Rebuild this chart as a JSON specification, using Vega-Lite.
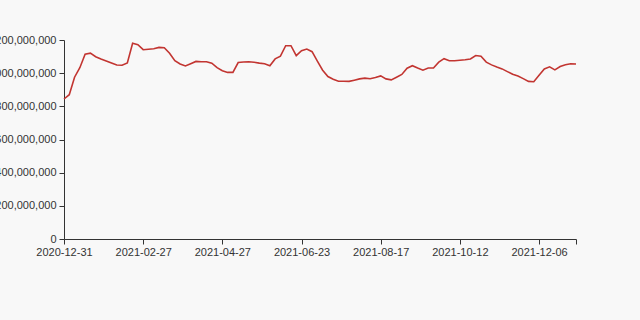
{
  "$schema": "https://vega.github.io/schema/vega-lite/v6.json",
  "width": 512,
  "height": 199,
  "autosize": "none",
  "padding": {"left": 64, "top": 40, "right": 64, "bottom": 81},
  "background": "#f8f8f8",
  "config": {"view": {"stroke": null}, "font": "Liberation Sans"},
  "data": {"values": [
    {"date": "2020-12-31", "value": 844200000},
    {"date": "2021-01-04", "value": 870200000},
    {"date": "2021-01-08", "value": 975700000},
    {"date": "2021-01-12", "value": 1033000000},
    {"date": "2021-01-15", "value": 1114400000},
    {"date": "2021-01-19", "value": 1120400000},
    {"date": "2021-01-23", "value": 1099300000},
    {"date": "2021-01-27", "value": 1085400000},
    {"date": "2021-01-31", "value": 1074000000},
    {"date": "2021-02-04", "value": 1061300000},
    {"date": "2021-02-08", "value": 1049300000},
    {"date": "2021-02-12", "value": 1048000000},
    {"date": "2021-02-15", "value": 1061300000},
    {"date": "2021-02-19", "value": 1180700000},
    {"date": "2021-02-23", "value": 1171700000},
    {"date": "2021-02-27", "value": 1141500000},
    {"date": "2021-03-03", "value": 1144500000},
    {"date": "2021-03-07", "value": 1147500000},
    {"date": "2021-03-11", "value": 1155400000},
    {"date": "2021-03-15", "value": 1153600000},
    {"date": "2021-03-19", "value": 1120400000},
    {"date": "2021-03-23", "value": 1075200000},
    {"date": "2021-03-27", "value": 1055300000},
    {"date": "2021-03-30", "value": 1043200000},
    {"date": "2021-04-03", "value": 1057100000},
    {"date": "2021-04-07", "value": 1071000000},
    {"date": "2021-04-11", "value": 1069200000},
    {"date": "2021-04-15", "value": 1069200000},
    {"date": "2021-04-19", "value": 1060100000},
    {"date": "2021-04-23", "value": 1033000000},
    {"date": "2021-04-27", "value": 1014900000},
    {"date": "2021-05-01", "value": 1004600000},
    {"date": "2021-05-05", "value": 1004600000},
    {"date": "2021-05-08", "value": 1064300000},
    {"date": "2021-05-12", "value": 1067300000},
    {"date": "2021-05-16", "value": 1069200000},
    {"date": "2021-05-20", "value": 1066100000},
    {"date": "2021-05-24", "value": 1060700000},
    {"date": "2021-05-27", "value": 1057100000},
    {"date": "2021-05-31", "value": 1045000000},
    {"date": "2021-06-04", "value": 1086000000},
    {"date": "2021-06-08", "value": 1102300000},
    {"date": "2021-06-12", "value": 1165600000},
    {"date": "2021-06-15", "value": 1165600000},
    {"date": "2021-06-19", "value": 1105300000},
    {"date": "2021-06-23", "value": 1135500000},
    {"date": "2021-06-27", "value": 1145700000},
    {"date": "2021-06-30", "value": 1129500000},
    {"date": "2021-07-04", "value": 1072200000},
    {"date": "2021-07-08", "value": 1017900000},
    {"date": "2021-07-11", "value": 979900000},
    {"date": "2021-07-15", "value": 963600000},
    {"date": "2021-07-19", "value": 951600000},
    {"date": "2021-07-22", "value": 951600000},
    {"date": "2021-07-26", "value": 950400000},
    {"date": "2021-07-30", "value": 957600000},
    {"date": "2021-08-02", "value": 965400000},
    {"date": "2021-08-06", "value": 970300000},
    {"date": "2021-08-10", "value": 966000000},
    {"date": "2021-08-13", "value": 973900000},
    {"date": "2021-08-17", "value": 983500000},
    {"date": "2021-08-21", "value": 965400000},
    {"date": "2021-08-24", "value": 959400000},
    {"date": "2021-08-28", "value": 975700000},
    {"date": "2021-09-01", "value": 992600000},
    {"date": "2021-09-05", "value": 1030000000},
    {"date": "2021-09-08", "value": 1045000000},
    {"date": "2021-09-12", "value": 1030600000},
    {"date": "2021-09-16", "value": 1017900000},
    {"date": "2021-09-20", "value": 1031200000},
    {"date": "2021-09-23", "value": 1031200000},
    {"date": "2021-09-27", "value": 1066100000},
    {"date": "2021-10-01", "value": 1087200000},
    {"date": "2021-10-05", "value": 1075200000},
    {"date": "2021-10-08", "value": 1075200000},
    {"date": "2021-10-12", "value": 1078200000},
    {"date": "2021-10-16", "value": 1081200000},
    {"date": "2021-10-19", "value": 1085400000},
    {"date": "2021-10-23", "value": 1106500000},
    {"date": "2021-10-27", "value": 1102300000},
    {"date": "2021-10-30", "value": 1066700000},
    {"date": "2021-11-03", "value": 1049900000},
    {"date": "2021-11-07", "value": 1037200000},
    {"date": "2021-11-10", "value": 1025700000},
    {"date": "2021-11-14", "value": 1009500000},
    {"date": "2021-11-18", "value": 993200000},
    {"date": "2021-11-21", "value": 982300000},
    {"date": "2021-11-25", "value": 967200000},
    {"date": "2021-11-29", "value": 950400000},
    {"date": "2021-12-02", "value": 948600000},
    {"date": "2021-12-06", "value": 987700000},
    {"date": "2021-12-10", "value": 1025700000},
    {"date": "2021-12-13", "value": 1038400000},
    {"date": "2021-12-17", "value": 1019700000},
    {"date": "2021-12-21", "value": 1040200000},
    {"date": "2021-12-24", "value": 1051100000},
    {"date": "2021-12-28", "value": 1056500000},
    {"date": "2021-12-31", "value": 1055300000}
  ]},
  "mark": {"type": "line", "color": "#c23531", "strokeWidth": 1.6},
  "encoding": {
    "x": {
      "field": "date",
      "type": "ordinal",
      "sort": null,
      "scale": {"type": "point", "padding": 0},
      "axis": {
        "title": null,
        "values": ["2020-12-31", "2021-02-27", "2021-04-27", "2021-06-23", "2021-08-17", "2021-10-12", "2021-12-06", "2021-12-31"],
        "labelExpr": "datum.value == '2021-12-31' ? '' : datum.label",
        "labelAngle": 0,
        "labelFontSize": 11,
        "labelColor": "#333333",
        "labelPadding": 2,
        "domainColor": "#333333",
        "tickColor": "#333333",
        "tickSize": 5,
        "grid": false
      }
    },
    "y": {
      "field": "value",
      "type": "quantitative",
      "scale": {"domain": [0, 1200000000], "nice": false},
      "axis": {
        "title": null,
        "values": [0, 200000000, 400000000, 600000000, 800000000, 1000000000, 1200000000],
        "format": ",.0f",
        "labelFontSize": 11,
        "labelColor": "#333333",
        "labelPadding": 3,
        "domainColor": "#333333",
        "tickColor": "#333333",
        "tickSize": 5,
        "grid": false
      }
    }
  }
}
